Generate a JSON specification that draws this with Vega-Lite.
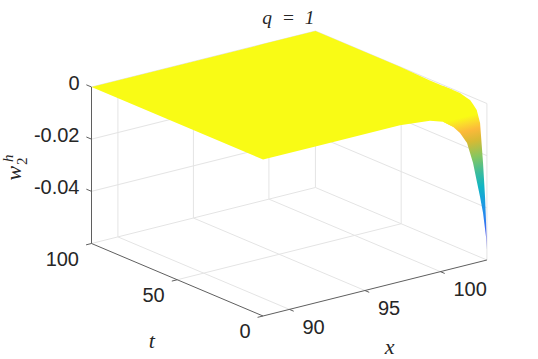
{"$schema":"https://vega.github.io/schema/vega-lite/v6.json","width":538,"height":359,"padding":0,"autosize":"none","background":"white","config":{"view":{"stroke":null}},
"data":{"values":[
{"kind":"grid","x":90,"t":0,"w":-0.06,"x2":90,"t2":100,"w2":-0.06},
{"kind":"grid","x":95,"t":0,"w":-0.06,"x2":95,"t2":100,"w2":-0.06},
{"kind":"grid","x":100,"t":0,"w":-0.06,"x2":100,"t2":100,"w2":-0.06},
{"kind":"grid","x":88.25,"t":50,"w":-0.06,"x2":103.08,"t2":50,"w2":-0.06},
{"kind":"grid","x":90,"t":100,"w":-0.06,"x2":90,"t2":100,"w2":0},
{"kind":"grid","x":95,"t":100,"w":-0.06,"x2":95,"t2":100,"w2":0},
{"kind":"grid","x":100,"t":100,"w":-0.06,"x2":100,"t2":100,"w2":0},
{"kind":"grid","x":103.08,"t":100,"w":-0.06,"x2":103.08,"t2":100,"w2":0},
{"kind":"grid","x":103.08,"t":50,"w":-0.06,"x2":103.08,"t2":50,"w2":0},
{"kind":"grid","x":103.08,"t":0,"w":-0.06,"x2":103.08,"t2":0,"w2":0},
{"kind":"grid","x":88.25,"t":100,"w":0,"x2":103.08,"t2":100,"w2":0},
{"kind":"grid","x":88.25,"t":100,"w":-0.02,"x2":103.08,"t2":100,"w2":-0.02},
{"kind":"grid","x":88.25,"t":100,"w":-0.04,"x2":103.08,"t2":100,"w2":-0.04},
{"kind":"grid","x":88.25,"t":100,"w":-0.06,"x2":103.08,"t2":100,"w2":-0.06},
{"kind":"grid","x":103.08,"t":100,"w":0,"x2":103.08,"t2":0,"w2":0},
{"kind":"grid","x":103.08,"t":100,"w":-0.02,"x2":103.08,"t2":0,"w2":-0.02},
{"kind":"grid","x":103.08,"t":100,"w":-0.04,"x2":103.08,"t2":0,"w2":-0.04},
{"kind":"grid","x":103.08,"t":100,"w":-0.06,"x2":103.08,"t2":0,"w2":-0.06},
{"kind":"axis","x":88.25,"t":100,"w":0,"x2":88.25,"t2":100,"w2":-0.06},
{"kind":"axis","x":88.25,"t":100,"w":-0.06,"x2":88.25,"t2":0,"w2":-0.06},
{"kind":"axis","x":88.25,"t":0,"w":-0.06,"x2":103.08,"t2":0,"w2":-0.06},
{"kind":"axis","x":88.25,"t":100,"w":0,"x2":88.25,"t2":103,"w2":0},
{"kind":"axis","x":88.25,"t":100,"w":-0.02,"x2":88.25,"t2":103,"w2":-0.02},
{"kind":"axis","x":88.25,"t":100,"w":-0.04,"x2":88.25,"t2":103,"w2":-0.04},
{"kind":"axis","x":88.25,"t":100,"w":-0.06,"x2":87.89,"t2":100,"w2":-0.06},
{"kind":"axis","x":88.25,"t":50,"w":-0.06,"x2":87.89,"t2":50,"w2":-0.06},
{"kind":"axis","x":88.25,"t":0,"w":-0.06,"x2":87.89,"t2":0,"w2":-0.06},
{"kind":"axis","x":90,"t":0,"w":-0.06,"x2":90,"t2":-2.5,"w2":-0.06},
{"kind":"axis","x":95,"t":0,"w":-0.06,"x2":95,"t2":-2.5,"w2":-0.06},
{"kind":"axis","x":100,"t":0,"w":-0.06,"x2":100,"t2":-2.5,"w2":-0.06},
{"kind":"surf","x":88.25,"t":100,"w":0,"x2":88.25,"t2":100,"w2":0},
{"kind":"surf","x":99.61,"t":100,"w":0,"x2":88.25,"t2":0,"w2":0},
{"kind":"surf","x":103.08,"t":100,"w":0,"x2":91.72,"t2":0,"w2":0},
{"kind":"surf","x":103.08,"t":50.7,"w":0,"x2":97.32,"t2":0,"w2":0},
{"kind":"surf","x":103.08,"t":33.2,"w":-0.0004,"x2":99.31,"t2":0,"w2":-0.00113},
{"kind":"surf","x":103.08,"t":25.6,"w":-0.0004,"x2":100.17,"t2":0,"w2":-0.00276},
{"kind":"surf","x":103.08,"t":19.8,"w":-0.0003,"x2":100.83,"t2":0,"w2":-0.00564},
{"kind":"corner","x":103.08,"t":25.6,"w":-0.0004,"x2":100.17,"t2":0,"w2":-0.00276},
{"kind":"corner","x":103.08,"t":19.8,"w":-0.0003,"x2":100.83,"t2":0,"w2":-0.00564},
{"kind":"corner","x":103.08,"t":15.7,"w":-0.0003,"x2":101.3,"t2":0,"w2":-0.00872},
{"kind":"corner","x":103.08,"t":11.6,"w":-0.0011,"x2":101.76,"t2":0,"w2":-0.01323},
{"kind":"corner","x":103.08,"t":9.85,"w":-0.0014,"x2":101.96,"t2":0,"w2":-0.01735},
{"kind":"corner","x":103.08,"t":8.1,"w":-0.0025,"x2":102.16,"t2":0,"w2":-0.02147},
{"kind":"corner","x":103.08,"t":5.95,"w":-0.0041,"x2":102.41,"t2":0,"w2":-0.02875},
{"kind":"corner","x":103.08,"t":4,"w":-0.0086,"x2":102.62,"t2":0,"w2":-0.03518},
{"kind":"corner","x":103.08,"t":2.27,"w":-0.0234,"x2":102.82,"t2":0,"w2":-0.0416},
{"kind":"corner","x":103.08,"t":1.1,"w":-0.0362,"x2":102.95,"t2":0,"w2":-0.0479},
{"kind":"corner","x":103.08,"t":0.52,"w":-0.0456,"x2":103.02,"t2":0,"w2":-0.0511},
{"kind":"corner","x":103.08,"t":0,"w":-0.0562,"x2":103.08,"t2":0,"w2":-0.0562},
{"kind":"zlabel","x":88.25,"t":100,"w":0,"label":"0"},
{"kind":"zlabel","x":88.25,"t":100,"w":-0.02,"label":"-0.02"},
{"kind":"zlabel","x":88.25,"t":100,"w":-0.04,"label":"-0.04"},
{"kind":"tlabel","x":88.25,"t":100,"w":-0.06,"label":"100"},
{"kind":"tlabel","x":88.25,"t":50,"w":-0.06,"label":"50"},
{"kind":"tlabel","x":88.25,"t":0,"w":-0.06,"label":"0"},
{"kind":"xlabel","x":90,"t":0,"w":-0.06,"label":"90"},
{"kind":"xlabel","x":95,"t":0,"w":-0.06,"label":"95"},
{"kind":"xlabel","x":100,"t":0,"w":-0.06,"label":"100"},
{"kind":"ttitle","x":88.25,"t":50,"w":-0.06,"label":"t"},
{"kind":"xtitle","x":95,"t":0,"w":-0.06,"label":"x"},
{"kind":"title","x":103.08,"t":100,"w":0,"label":"q\u2002=\u20021"},
{"kind":"zw","x":88.25,"t":100,"w":-0.02,"label":"w"},
{"kind":"zh","x":88.25,"t":100,"w":-0.02,"label":"h"},
{"kind":"z2","x":88.25,"t":100,"w":-0.02,"label":"2"}
]},
"transform":[
{"calculate":"263+15.1*(datum.x-88.25)-1.715*datum.t","as":"u"},
{"calculate":"159.5-3.775*(datum.x-88.25)-0.725*datum.t-2608.3*datum.w","as":"v"},
{"calculate":"263+15.1*(datum.x2-88.25)-1.715*datum.t2","as":"u2"},
{"calculate":"159.5-3.775*(datum.x2-88.25)-0.725*datum.t2-2608.3*datum.w2","as":"v2"}
],
"encoding":{
"x":{"field":"u","type":"quantitative","scale":{"domain":[0,538],"nice":false,"zero":false},"axis":null},
"y":{"field":"v","type":"quantitative","scale":{"domain":[359,0],"nice":false,"zero":false},"axis":null}
},
"layer":[
{"transform":[{"filter":"datum.kind==='grid'"}],"mark":{"type":"rule","color":"#e4e4e4","strokeWidth":1},"encoding":{"x2":{"field":"u2"},"y2":{"field":"v2"}}},
{"transform":[{"filter":"datum.kind==='axis'"}],"mark":{"type":"rule","color":"#5f5f5f","strokeWidth":1},"encoding":{"x2":{"field":"u2"},"y2":{"field":"v2"}}},
{"transform":[{"filter":"datum.kind==='surf'"}],"mark":{"type":"area","line":false,"color":"#f9fb15"},"encoding":{"y2":{"field":"v2"}}},
{"transform":[{"filter":"datum.kind==='corner'"}],"mark":{"type":"area","line":false,"color":{"gradient":"linear","x1":0,"y1":0,"x2":0.067,"y2":1,"stops":[{"offset":0,"color":"#f9fb15"},{"offset":0.22,"color":"#f9fb15"},{"offset":0.26,"color":"#fbdc2c"},{"offset":0.31,"color":"#fcb93a"},{"offset":0.38,"color":"#d6ba34"},{"offset":0.48,"color":"#85c660"},{"offset":0.58,"color":"#3cbc9c"},{"offset":0.67,"color":"#10b5c5"},{"offset":0.77,"color":"#1a9ce0"},{"offset":0.875,"color":"#2a80f0"},{"offset":0.96,"color":"#4a60f0"},{"offset":1,"color":"#4a50e0"}]}},"encoding":{"y2":{"field":"v2"}}},
{"transform":[{"filter":"datum.kind==='zlabel'"}],"mark":{"type":"text","font":"Liberation Sans","fontSize":20,"color":"#262626","align":"right","baseline":"middle","dx":-12,"dy":-3.5},"encoding":{"text":{"field":"label"}}},
{"transform":[{"filter":"datum.kind==='tlabel'"}],"mark":{"type":"text","font":"Liberation Sans","fontSize":20,"color":"#262626","align":"right","baseline":"middle","dx":-12.5,"dy":16.5},"encoding":{"text":{"field":"label"}}},
{"transform":[{"filter":"datum.kind==='xlabel'"}],"mark":{"type":"text","font":"Liberation Sans","fontSize":20,"color":"#262626","align":"left","baseline":"middle","dx":13,"dy":18.5},"encoding":{"text":{"field":"label"}}},
{"transform":[{"filter":"datum.kind==='ttitle'"}],"mark":{"type":"text","font":"Liberation Serif","fontStyle":"italic","fontSize":22,"color":"#262626","align":"center","baseline":"middle","dx":-25.5,"dy":61},"encoding":{"text":{"field":"label"}}},
{"transform":[{"filter":"datum.kind==='xtitle'"}],"mark":{"type":"text","font":"Liberation Serif","fontStyle":"italic","fontSize":22,"color":"#262626","align":"center","baseline":"middle","dx":24.7,"dy":56.3},"encoding":{"text":{"field":"label"}}},
{"transform":[{"filter":"datum.kind==='title'"}],"mark":{"type":"text","font":"Liberation Serif","fontStyle":"italic","fontSize":19.5,"color":"#262626","align":"center","baseline":"middle","dx":-27,"dy":-13},"encoding":{"text":{"field":"label"}}},
{"transform":[{"filter":"datum.kind==='zw'"}],"mark":{"type":"text","font":"Liberation Serif","fontStyle":"italic","fontSize":22,"color":"#262626","align":"center","baseline":"middle","angle":270,"dx":-34,"dy":-77.5},"encoding":{"text":{"field":"label"}}},
{"transform":[{"filter":"datum.kind==='zh'"}],"mark":{"type":"text","font":"Liberation Serif","fontStyle":"italic","fontSize":15,"color":"#262626","align":"center","baseline":"middle","angle":270,"dx":-19,"dy":-83.5},"encoding":{"text":{"field":"label"}}},
{"transform":[{"filter":"datum.kind==='z2'"}],"mark":{"type":"text","font":"Liberation Serif","fontSize":15,"color":"#262626","align":"center","baseline":"middle","angle":270,"dx":-22,"dy":-70},"encoding":{"text":{"field":"label"}}}
]}
